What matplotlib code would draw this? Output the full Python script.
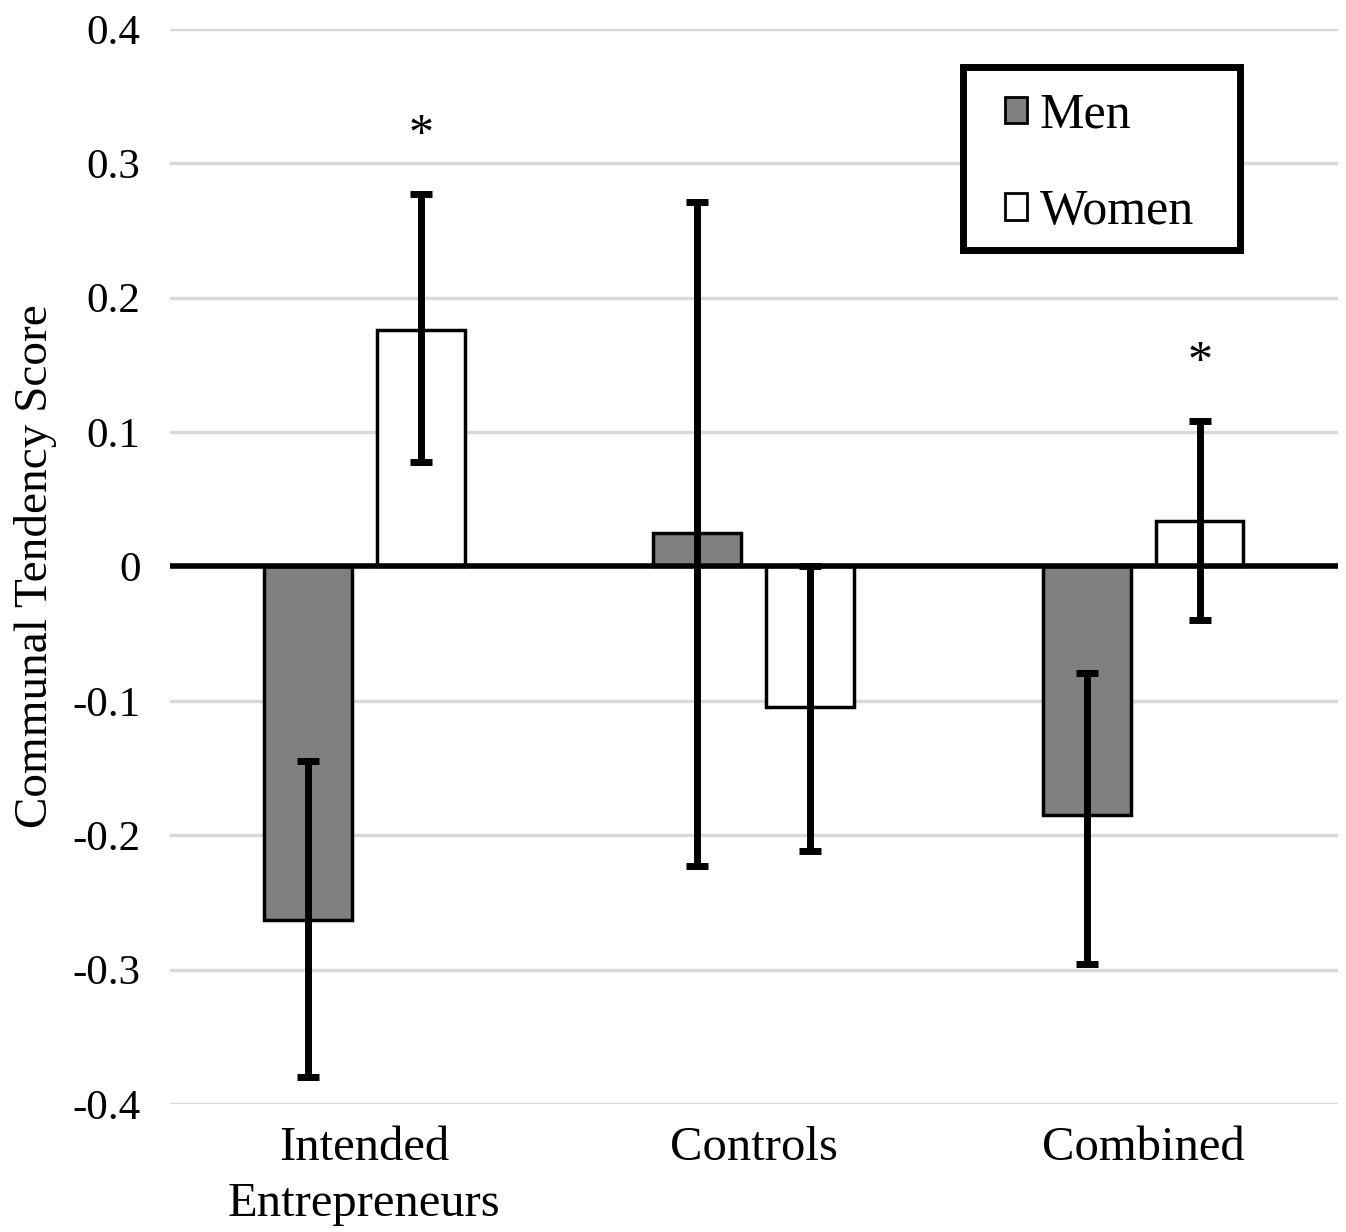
import matplotlib.pyplot as plt
import matplotlib.patches as mpatches
import numpy as np

plt.rcParams['font.family'] = ['Liberation Serif', 'DejaVu Serif']

categories = ['Intended\nEntrepreneurs', 'Controls', 'Combined']
men = [-0.263, 0.025, -0.185]
women = [0.176, -0.105, 0.034]
men_err_low = [-0.380, -0.223, -0.296]
men_err_high = [-0.145, 0.271, -0.079]
women_err_low = [0.078, -0.212, -0.040]
women_err_high = [0.277, 0.0, 0.108]
stars = [True, False, True]

fig = plt.figure(figsize=(13.46, 12.32), dpi=100)
ax = fig.add_axes([0.126, 0.104, 0.868, 0.8725])

x = np.arange(len(categories))
w = 0.225
off = 0.145

ax.bar(x - off, men, w, color='#808080', edgecolor='black', linewidth=2.5, zorder=3, label='Men')
ax.bar(x + off, women, w, color='white', edgecolor='black', linewidth=2.5, zorder=3, label='Women')

men = np.array(men)
women = np.array(women)
men_err = [men - np.array(men_err_low), np.array(men_err_high) - men]
women_err = [women - np.array(women_err_low), np.array(women_err_high) - women]
ax.errorbar(x - off, men, yerr=men_err, fmt='none', ecolor='black', elinewidth=5,
            capsize=8, capthick=5, zorder=5)
ax.errorbar(x + off, women, yerr=women_err, fmt='none', ecolor='black', elinewidth=5,
            capsize=8, capthick=5, zorder=5)

for i, s in enumerate(stars):
    if s:
        ax.text(x[i] + off, women_err_high[i] + 0.026, '*', ha='center', va='bottom', fontsize=36)

ax.axhline(0, color='black', linewidth=4, zorder=6)
ax.set_ylim(-0.4, 0.4)
ax.set_xlim(-0.5, 2.5)
ax.set_yticks(np.arange(-0.4, 0.41, 0.1))
ax.set_yticklabels(['-0.4', '-0.3', '-0.2', '-0.1', '0', '0.1', '0.2', '0.3', '0.4'])
ax.yaxis.grid(True, color='#d9d9d9', linewidth=2.5, zorder=0)
ax.set_axisbelow(True)
ax.set_xticks(x)
ax.set_xticklabels(categories, fontsize=35, linespacing=1.35)
ax.tick_params(axis='both', length=0)
ax.tick_params(axis='y', labelsize=31, pad=21)
ax.tick_params(axis='x', pad=16)
for sp in ax.spines.values():
    sp.set_visible(False)

ax.set_ylabel('Communal Tendency Score', fontsize=34, va='center')
ax.yaxis.set_label_coords(-0.115, 0.5)

# legend box drawn separately so its padding can match the original
box = mpatches.Rectangle((0.679, 0.794), 0.237, 0.171, transform=ax.transAxes,
                         facecolor='white', edgecolor='black', linewidth=5, zorder=7)
ax.add_patch(box)
leg = ax.legend(loc='center', bbox_to_anchor=(0.796, 0.8745), fontsize=36,
                frameon=False, handlelength=0.45, handleheight=0.45, handletextpad=0.25,
                labelspacing=1.0, borderpad=0, borderaxespad=0)
leg.set_zorder(8)
for h in leg.legend_handles:
    h.set_linewidth(2)

fig.savefig('out.png', dpi=100)
